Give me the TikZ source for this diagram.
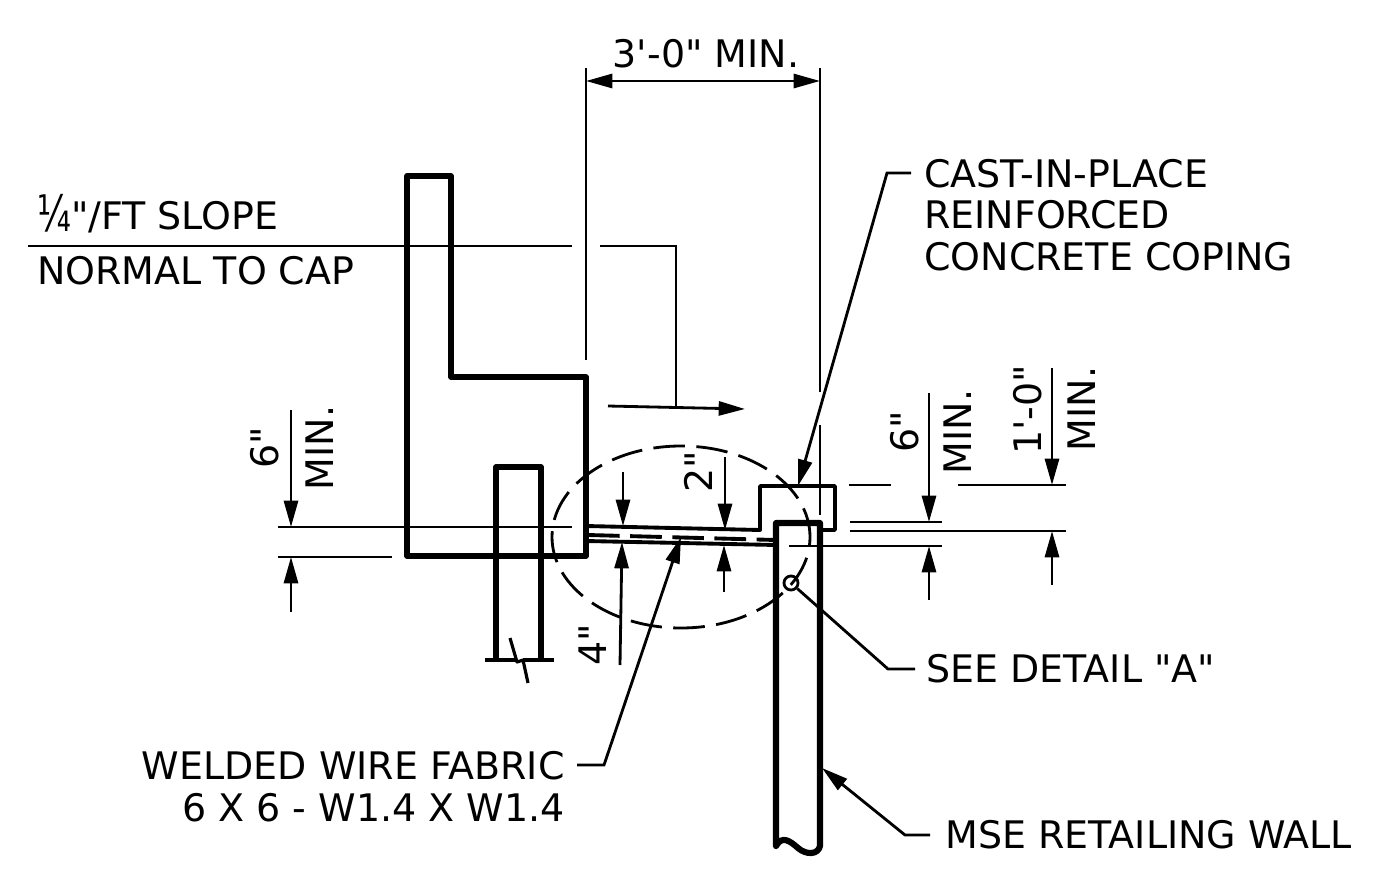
\documentclass[tikz,border=0pt]{standalone}
\usepackage{graphicx}
\usepackage{fontspec}
\setmainfont{DejaVu Sans}[Ligatures=TeXOff]
\usetikzlibrary{arrows.meta}

\tikzset{
  heavy/.style={line width=3.3pt, line join=round, line cap=round},
  medium/.style={line width=2.2pt, line join=round},
  thinline/.style={line width=1.6pt},
  dim/.style={line width=1.6pt, -{Triangle[length=15pt,width=8pt]}},
  lbl/.style={inner sep=0pt, font=\fontsize{21.6}{23.6}\selectfont},
}

\begin{document}
\begin{tikzpicture}[x=0.02cm,y=-0.02cm]
\useasboundingbox (0,0) rectangle (1373,889);

% cap and stem
\draw[heavy] (407,176) -- (451,176) -- (451,377) -- (586,377) -- (586,556) -- (407,556) -- cycle;
\draw[medium, line width=2.9pt] (496,660) -- (496,467) -- (541,467) -- (541,660);
\draw[thinline, line width=1.8pt] (485,660) -- (516,660);
\draw[thinline, line width=1.8pt] (523,660) -- (554,660);
\draw[thinline, line width=1.8pt, line join=round] (510,638) -- (517,662) -- (523,660) -- (528,683);

% slab
\draw[medium] (586,526) -- (760,530) -- (760,486) -- (835,486) -- (835,530) -- (820,530);
\draw[medium] (586,541) -- (776,545);
\draw[medium, dash pattern=on 18pt off 6pt] (588,535) -- (776,540);

% wall
\draw[heavy, line width=3.5pt] (776,846) -- (776,523) -- (820,523) -- (820,846)
  .. controls (818,855) and (806,855) .. (798,848)
  .. controls (790,841) and (782,835) .. (776,846);

% detail ellipse
\draw[thinline, dash pattern=on 18pt off 6.5pt, dash phase=12.5pt] (681,537) ellipse (129 and 91);
\node[draw, thinline, circle, inner sep=0pt, minimum size=8pt] (detail) at (791,583) {};

% reference lines
\draw[thinline] (278,527) -- (572,527);
\draw[thinline] (278,557) -- (392,557);
\draw[thinline] (28,246) -- (572,246);
\draw[thinline] (600,246) -- (676,246) -- (676,408);
\draw[thinline] (586,68) -- (586,360);
\draw[thinline] (820,68) -- (820,392);
\draw[thinline] (820,425) -- (820,515);
\draw[thinline] (849,485) -- (891,485);
\draw[thinline] (958,485) -- (1066,485);
\draw[thinline] (850,522) -- (942,522);
\draw[thinline] (850,531) -- (1066,531);
\draw[thinline] (789,546) -- (942,546);

% dimensions
\coordinate (topL) at (586,81);
\coordinate (topR) at (820,81);
\draw[dim, {Triangle[length=15pt,width=8pt]}-{Triangle[length=15pt,width=8pt]}] (topL) -- (topR);
\draw[dim] (608,406) -- (745,409);
\draw[dim] (291,410) -- (291,527);
\draw[dim] (291,612) -- (291,557);
\draw[dim] (623,472) -- (623,526);
\draw[dim] (620,665) -- (622,542);
\draw[dim] (725,457) -- (725,530);
\draw[dim] (724,592) -- (724,545);
\draw[dim] (929,393) -- (929,522);
\draw[dim] (929,600) -- (929,546);
\draw[dim] (1052,368) -- (1052,485);
\draw[dim] (1052,585) -- (1052,531);

% labels
\node[lbl] (dimtop) at (706,54) {3'-0" MIN.};
\node[lbl, anchor=base west] (slope) at (37,229) {\raisebox{-1.7pt}{\scalebox{0.92}[1.32]{¼}}"/FT SLOPE};
\node[lbl, anchor=base west] (normal) at (37,284) {NORMAL TO CAP};
\node[lbl, rotate=90] (sixa) at (265,448) {6"};
\node[lbl, rotate=90] (mina) at (320,448) {MIN.};
\node[lbl, rotate=90] (two) at (698,472) {2"};
\node[lbl, rotate=90] (four) at (593,645) {4"};
\node[lbl, rotate=90] (sixb) at (905,432) {6"};
\node[lbl, rotate=90] (minb) at (958,432) {MIN.};
\node[lbl, rotate=90] (onefoot) at (1028,410) {1'-0"};
\node[lbl, rotate=90] (minc) at (1082,409) {MIN.};
\node[lbl, anchor=west, align=left] (cast) at (924,215) {CAST-IN-PLACE\\REINFORCED\\CONCRETE COPING};
\node[lbl, anchor=base west] (see) at (926,682) {SEE DETAIL "A"};
\node[lbl, anchor=base east] (fabric) at (565,779) {WELDED WIRE FABRIC};
\node[lbl, anchor=base east] (fabricb) at (565,821) {6 X 6 - W1.4 X W1.4};
\node[lbl, anchor=base west] (mse) at (945,848) {MSE RETAILING WALL};

% leaders
\coordinate (castend) at (911,173);
\coordinate (seeend) at (915,669);
\coordinate (fabricend) at (577,765);
\coordinate (mseend) at (930,835);
\draw[dim] (castend) -- (887,173) -- (798,486);
\draw[thinline] (seeend) -- (888,669) -- (detail);
\draw[dim] (fabricend) -- (604,765) -- (681,537);
\draw[dim] (mseend) -- (905,835) -- (822,768);

\end{tikzpicture}
\end{document}
